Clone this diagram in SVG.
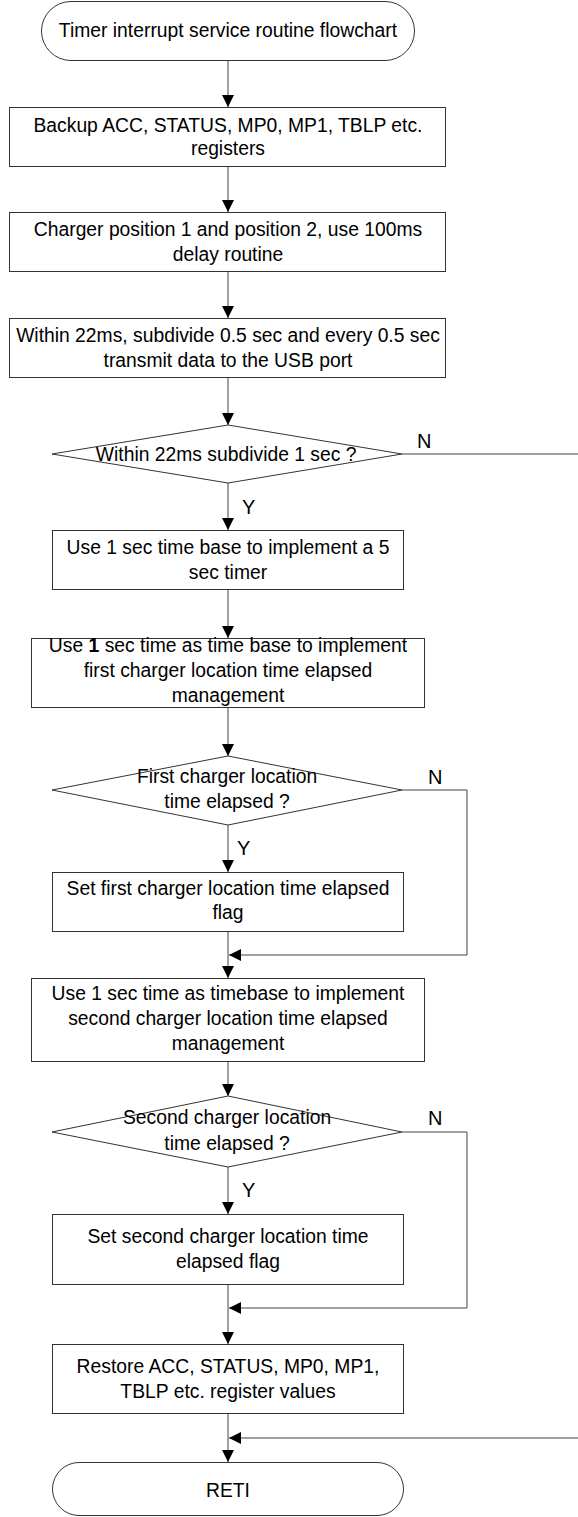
<svg xmlns="http://www.w3.org/2000/svg" width="578" height="1517" viewBox="0 0 578 1517">
<style>
.s{fill:#fff;stroke:#333;stroke-width:1}
.t{font-family:"Liberation Sans",Arial,sans-serif;font-size:21px;fill:#000;text-anchor:middle;transform:matrix(0.92,0,0,1,18.24,0)}
.l{font-family:"Liberation Sans",Arial,sans-serif;font-size:20px;fill:#000}
.c{fill:none;stroke:#444;stroke-width:1}
</style>
<defs>
<marker id="ah" markerUnits="userSpaceOnUse" markerWidth="12" markerHeight="12" refX="12" refY="6" orient="auto">
<path d="M0,0 L12,6 L0,12 z" fill="#000"/>
</marker>
</defs>
<rect width="578" height="1517" fill="#fff"/>
<g id="connectors">
<line class="c" x1="228" y1="60" x2="228" y2="107" marker-end="url(#ah)"/>
<line class="c" x1="228" y1="166" x2="228" y2="212" marker-end="url(#ah)"/>
<line class="c" x1="228" y1="272" x2="228" y2="318" marker-end="url(#ah)"/>
<line class="c" x1="228" y1="378" x2="228" y2="425" marker-end="url(#ah)"/>
<line class="c" x1="228" y1="483" x2="228" y2="530" marker-end="url(#ah)"/>
<line class="c" x1="228" y1="590" x2="228" y2="638" marker-end="url(#ah)"/>
<line class="c" x1="228" y1="708" x2="228" y2="756" marker-end="url(#ah)"/>
<line class="c" x1="228" y1="825" x2="228" y2="872" marker-end="url(#ah)"/>
<line class="c" x1="228" y1="932" x2="228" y2="978" marker-end="url(#ah)"/>
<polyline class="c" points="402,790 467,790 467,955 229,955" marker-end="url(#ah)"/>
<line class="c" x1="228" y1="1062" x2="228" y2="1096" marker-end="url(#ah)"/>
<line class="c" x1="228" y1="1167" x2="228" y2="1214" marker-end="url(#ah)"/>
<line class="c" x1="228" y1="1285" x2="228" y2="1344" marker-end="url(#ah)"/>
<polyline class="c" points="402,1132 467,1132 467,1308 229,1308" marker-end="url(#ah)"/>
<line class="c" x1="228" y1="1414" x2="228" y2="1462" marker-end="url(#ah)"/>
<polyline class="c" points="402,454 590,454 590,1438 229,1438" marker-end="url(#ah)"/>
<text class="l" x="417" y="448">N</text>
<text class="l" x="242" y="514">Y</text>
<text class="l" x="428" y="784">N</text>
<text class="l" x="237" y="855">Y</text>
<text class="l" x="428" y="1125">N</text>
<text class="l" x="242" y="1197">Y</text>
</g>
<g id="start">
<rect class="s" x="41.5" y="1.5" width="373" height="59" rx="29.5" ry="29.5"/>
<text class="t" x="228" y="37">Timer interrupt service routine flowchart</text>
</g>
<g id="backup">
<rect class="s" x="9.5" y="107.5" width="436" height="59"/>
<text class="t" x="228" y="132">Backup ACC, STATUS, MP0, MP1, TBLP etc.</text>
<text class="t" x="228" y="155">registers</text>
</g>
<g id="charger">
<rect class="s" x="9.5" y="212.5" width="436" height="59"/>
<text class="t" x="228" y="236">Charger position 1 and position 2, use 100ms</text>
<text class="t" x="228" y="261">delay routine</text>
</g>
<g id="within">
<rect class="s" x="9.5" y="318.5" width="436" height="59"/>
<text class="t" x="228" y="342">Within 22ms, subdivide 0.5 sec and every 0.5 sec</text>
<text class="t" x="228" y="367">transmit data to the USB port</text>
</g>
<g id="dec1">
<polygon class="s" points="228,425 402,454 228,483 52,454"/>
<text class="t" x="226" y="461">Within 22ms subdivide 1 sec ?</text>
</g>
<g id="timer5">
<rect class="s" x="52.5" y="530.5" width="351" height="59"/>
<text class="t" x="228" y="554">Use 1 sec time base to implement a 5</text>
<text class="t" x="228" y="579">sec timer</text>
</g>
<g id="first-mgmt">
<rect class="s" x="31.5" y="638.5" width="393" height="69"/>
<text class="t" x="228" y="652">Use <tspan font-weight="bold">1</tspan> sec time as time base to implement</text>
<text class="t" x="228" y="677">first charger location time elapsed</text>
<text class="t" x="228" y="702">management</text>
</g>
<g id="dec2">
<polygon class="s" points="228,756 402,790 228,825 52,790"/>
<text class="t" x="227" y="783">First charger location</text>
<text class="t" x="227" y="808">time elapsed ?</text>
</g>
<g id="first-flag">
<rect class="s" x="52.5" y="872.5" width="351" height="59"/>
<text class="t" x="228" y="895">Set first charger location time elapsed</text>
<text class="t" x="228" y="919">flag</text>
</g>
<g id="second-mgmt">
<rect class="s" x="31.5" y="978.5" width="393" height="83"/>
<text class="t" x="228" y="1000">Use 1 sec time as timebase to implement</text>
<text class="t" x="228" y="1025">second charger location time elapsed</text>
<text class="t" x="228" y="1050">management</text>
</g>
<g id="dec3">
<polygon class="s" points="228,1096 402,1132 228,1167 52,1132"/>
<text class="t" x="227" y="1124">Second charger location</text>
<text class="t" x="227" y="1150">time elapsed ?</text>
</g>
<g id="second-flag">
<rect class="s" x="52.5" y="1214.5" width="351" height="70"/>
<text class="t" x="228" y="1243">Set second charger location time</text>
<text class="t" x="228" y="1268">elapsed flag</text>
</g>
<g id="restore">
<rect class="s" x="52.5" y="1344.5" width="351" height="69"/>
<text class="t" x="228" y="1373">Restore ACC, STATUS, MP0, MP1,</text>
<text class="t" x="228" y="1398">TBLP etc. register values</text>
</g>
<g id="reti">
<rect class="s" x="52.5" y="1462.5" width="351" height="53" rx="26.5" ry="26.5"/>
<text class="t" x="228" y="1497">RETI</text>
</g>
</svg>
